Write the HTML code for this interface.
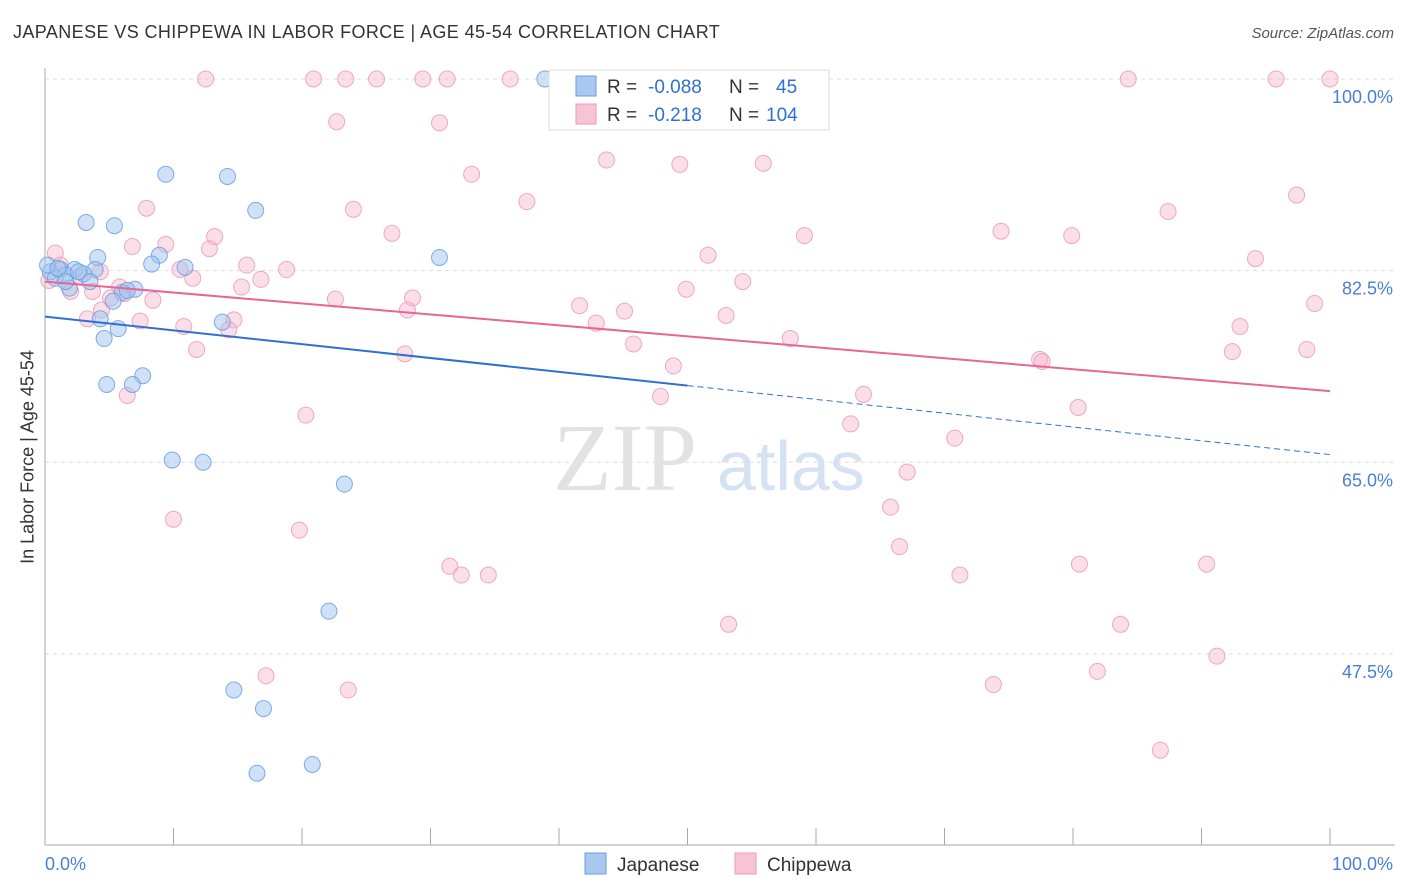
<!DOCTYPE html>
<html><head><meta charset="utf-8">
<style>
body{margin:0;background:#fff;font-family:"Liberation Sans",sans-serif;}
#wrap{position:relative;width:1406px;height:892px;overflow:hidden;}
.t{position:absolute;white-space:nowrap;}
</style></head>
<body>
<div id="wrap">
<div class="t" style="left:13px;top:22px;font-size:18px;color:#333;letter-spacing:0.4px">JAPANESE VS CHIPPEWA IN LABOR FORCE | AGE 45-54 CORRELATION CHART</div>
<div class="t" style="right:12px;top:25px;font-size:15px;color:#555;font-style:italic">Source: ZipAtlas.com</div>
<div class="t" style="left:28px;top:457px;font-size:18px;color:#333;transform:translate(-50%,-50%) rotate(-90deg)">In Labor Force | Age 45-54</div>
<svg id="svg" width="1406" height="892" style="position:absolute;left:0;top:0"></svg>
</div>
<script>
const xTickVals=[0,10,20,30,40,50,60,70,80,90,100];
const yTickVals=[100,82.5,65,47.5];
const yTickLabels=["100.0%","82.5%","65.0%","47.5%"];
const japX=[38.9,9.4,14.2,16.4,3.2,5.4,4.1,8.9,8.3,10.9,30.7,3.9,0.4,1.2,2.3,1.6,3.0,3.5,1.9,0.8,7.0,6.0,5.3,4.3,13.8,5.7,4.6,7.6,4.8,6.8,9.9,12.3,23.3,22.1,14.7,17.0,16.5,20.8,46.7,0.2,1.0,2.6,6.4,1.6];
const japY=[100,91.3,91.1,88.0,86.9,86.6,83.7,83.9,83.1,82.8,83.7,82.6,82.4,82.6,82.6,82.1,82.2,81.5,80.9,81.8,80.8,80.5,79.7,78.1,77.8,77.2,76.3,72.9,72.1,72.1,65.2,65.0,63.0,51.4,44.2,42.5,36.6,37.4,100,83.0,82.7,82.4,80.7,81.5];
const chiX=[12.5,20.9,23.4,25.8,29.4,31.3,36.2,84.3,95.8,100,22.7,30.7,43.7,49.4,55.9,33.2,97.4,37.5,7.9,24.0,87.4,27.0,74.4,79.9,59.1,13.2,6.8,9.4,12.8,0.8,51.6,94.2,15.7,18.8,10.5,11.5,16.8,54.3,15.3,49.9,5.8,3.7,2.0,22.6,28.6,8.4,41.6,45.1,28.2,98.8,4.4,3.3,7.4,53.0,10.8,14.7,14.3,42.9,93.0,58.0,45.8,11.8,92.4,98.2,28.0,48.9,77.4,77.6,6.4,47.9,63.7,20.3,80.4,62.7,70.8,67.1,10.0,65.8,19.8,66.5,31.5,32.4,34.5,71.2,80.5,90.4,53.2,83.7,91.2,17.2,81.9,23.6,73.8,86.8,1.2,0.3,2.7,5.1,6.2,4.3];
const chiY=[100,100,100,100,100,100,100,100,100,100,96.1,96.0,92.6,92.2,92.3,91.3,89.4,88.8,88.2,88.1,87.9,85.9,86.1,85.7,85.7,85.6,84.7,84.9,84.5,84.1,83.9,83.6,83.0,82.6,82.6,81.8,81.7,81.5,81.0,80.8,81.0,80.6,80.6,79.9,80.0,79.8,79.3,78.8,78.9,79.5,78.9,78.1,77.9,78.4,77.4,78.0,77.1,77.7,77.4,76.3,75.8,75.3,75.1,75.3,74.9,73.8,74.4,74.2,71.1,71.0,71.2,69.3,70.0,68.5,67.2,64.1,59.8,60.9,58.8,57.3,55.5,54.7,54.7,54.7,55.7,55.7,50.2,50.2,47.3,45.5,45.9,44.2,44.7,38.7,83.0,81.6,82.0,80.0,80.4,82.4];
const japTrend=[78.3,65.7];
const chiTrend=[81.5,71.5];
const japSolidEnd=50;

const NS="http://www.w3.org/2000/svg";
const svg=document.getElementById('svg');
const X=v=>45+v*12.85;
const Y=v=>79+(100-v)*10.95;
function el(tag,attrs,parent){const e=document.createElementNS(NS,tag);for(const k in attrs)e.setAttribute(k,attrs[k]);(parent||svg).appendChild(e);return e;}

yTickVals.forEach((v,i)=>{
  const g=el('line',{x1:45,x2:1395,y1:Y(v),y2:Y(v),stroke:'#ddd','stroke-dasharray':'4,4'});
  
  
  const t=el('text',{x:1393,y:Y(v)+24,'text-anchor':'end','font-size':18,fill:'#4a7fd4','font-family':'Liberation Sans, sans-serif'});
  t.textContent=yTickLabels[i];
  
  
});
const ya=el('line',{x1:45,x2:45,y1:68,y2:845,stroke:'#aaa'});


const xa=el('line',{x1:45,x2:1395,y1:845,y2:845,stroke:'#aaa'});


xTickVals.forEach(v=>{
  const t=el('line',{x1:X(v),x2:X(v),y1:828,y2:845,stroke:'#aaa'});
  
  
});
[[0,"0.0%","start",45],[100,"100.0%","end",1393]].forEach(a=>{
  const t=el('text',{x:a[3],y:870,'text-anchor':a[2],'font-size':18,fill:'#4a7fd4','font-family':'Liberation Sans, sans-serif'});
  t.textContent=a[1];
  
  
});
const wm=el('text',{x:553,y:490,'font-size':96,fill:'#e2e2e2','font-family':'Liberation Serif, serif'});
wm.textContent='ZIP';


const wm2=el('text',{x:717,y:490,'font-size':70,fill:'#d4e2f4','font-family':'Liberation Sans, sans-serif'});
wm2.textContent='atlas';



chiX.forEach((x,i)=>{
  const c=el('circle',{cx:X(x),cy:Y(chiY[i]),r:8,fill:'rgba(247,184,204,0.45)',stroke:'#ec9ab8','stroke-width':1,'stroke-opacity':0.85});
  
  
});
japX.forEach((x,i)=>{
  const c=el('circle',{cx:X(x),cy:Y(japY[i]),r:8,fill:'rgba(160,196,240,0.5)',stroke:'#6a9de0','stroke-width':1,'stroke-opacity':0.85});
  
  
});
const jy=x=>japTrend[0]+(japTrend[1]-japTrend[0])*x/100;
const l1=el('line',{x1:X(0),y1:Y(jy(0)),x2:X(japSolidEnd),y2:Y(jy(japSolidEnd)),stroke:'#2f6fd6','stroke-width':2});


const l2=el('line',{x1:X(japSolidEnd),y1:Y(jy(japSolidEnd)),x2:X(100),y2:Y(jy(100)),stroke:'#2f6fd6','stroke-width':1,'stroke-dasharray':'6,4'});


const l3=el('line',{x1:X(0),y1:Y(chiTrend[0]),x2:X(100),y2:Y(chiTrend[1]),stroke:'#e86595','stroke-width':2});



const lg=el('rect',{x:549,y:70,width:280,height:60,fill:'#fff',stroke:'#ddd'});


const rows=[["#a8c8f0","#6a9de0","-0.088","45",86],["#f7c4d4","#ec9ab8","-0.218","104",114]];
rows.forEach(r=>{
  const s=el('rect',{x:576,y:r[4]-10,width:20,height:20,fill:r[0],stroke:r[1]});
  
  
  const t=el('text',{x:607,y:r[4]+7,'font-size':19,fill:'#333','font-family':'Liberation Sans, sans-serif'});
  t.innerHTML='R = <tspan x="648" fill="#2f6fd6">'+r[2]+'</tspan>';
  
  
  const n=el('text',{x:729,y:r[4]+7,'font-size':19,fill:'#333','font-family':'Liberation Sans, sans-serif'});
  n.innerHTML='N = <tspan x="'+(r[3].length==2?776:766)+'" fill="#2f6fd6">'+r[3]+'</tspan>';
  
  
});
[["#a8c8f0","#6a9de0","Japanese",585],["#f7c4d4","#ec9ab8","Chippewa",735]].forEach(r=>{
  const s=el('rect',{x:r[3],y:853,width:21,height:21,fill:r[0],stroke:r[1]});
  
  
  const t=el('text',{x:r[3]+32,y:871,'font-size':19,fill:'#333','font-family':'Liberation Sans, sans-serif'});
  t.textContent=r[2];
  
  
});
</script>
</body></html>
